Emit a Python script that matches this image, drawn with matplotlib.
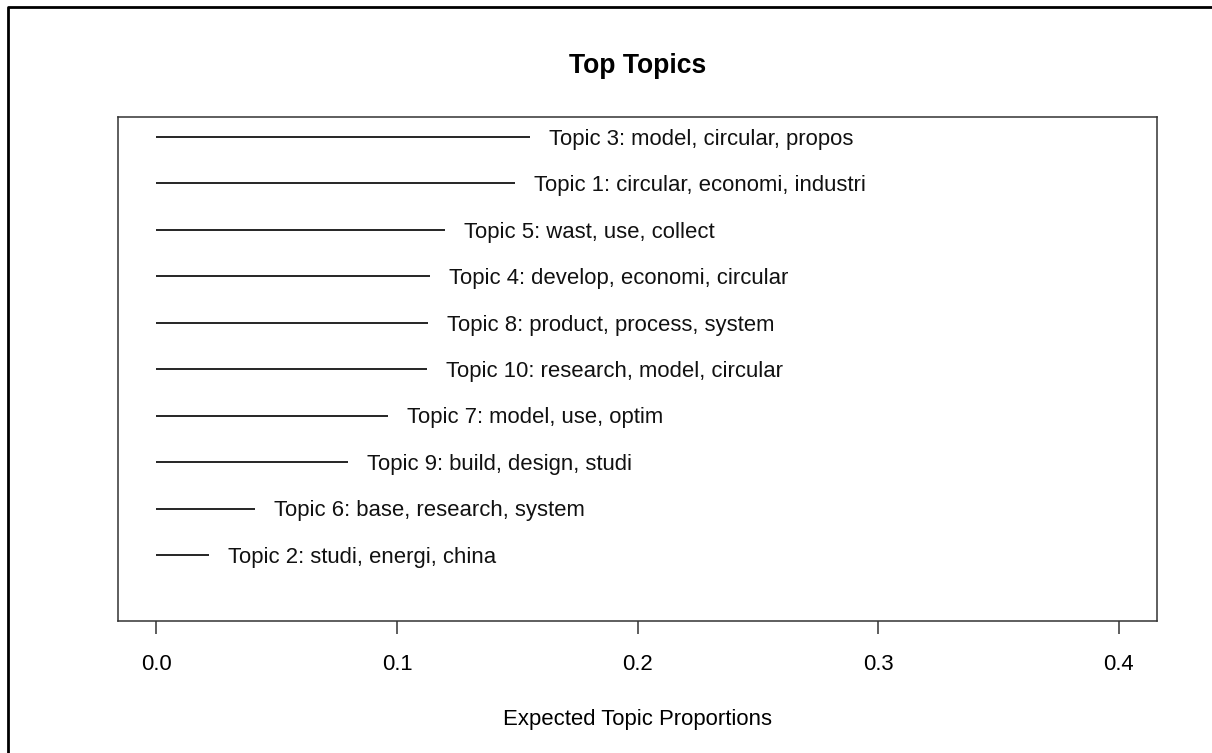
import numpy as np
import matplotlib
matplotlib.use("Agg")
import matplotlib.pyplot as plt
from matplotlib.lines import Line2D

plt.rcParams['font.family'] = ['Liberation Sans', 'DejaVu Sans']

# topics listed bottom to top
labels = ["Topic 2: studi, energi, china",
          "Topic 6: base, research, system",
          "Topic 9: build, design, studi",
          "Topic 7: model, use, optim",
          "Topic 10: research, model, circular",
          "Topic 8: product, process, system",
          "Topic 4: develop, economi, circular",
          "Topic 5: wast, use, collect",
          "Topic 1: circular, economi, industri",
          "Topic 3: model, circular, propos"]
props = [0.0220, 0.0408, 0.0795, 0.0961, 0.1123, 0.1127, 0.1136, 0.1198, 0.1489, 0.1552]
xticks = [0.0, 0.1, 0.2, 0.3, 0.4]

W, H = 1212, 753
fig = plt.figure(figsize=(W / 100, H / 100), dpi=100)
ax = fig.add_axes([118 / W, 1 - 621 / H, (1157 - 118) / W, (621 - 117) / H])

fs = 15.9
ypos = np.arange(1, len(props) + 1)
for y, p, lab in zip(ypos, props, labels):
    ax.plot([0, p], [y, y], color='black', lw=1.2, solid_capstyle='butt')
    ax.annotate(lab, (p, y), xytext=(13.7, -1.6), textcoords='offset points',
                va='center', ha='left', fontsize=fs, color='#111111')

ax.set_xlim(-0.016, 0.416)
ax.set_ylim(-0.42, 10.43)
ax.set_yticks([])
ax.set_xticks(xticks)
ax.set_xticklabels(["%.1f" % t for t in xticks], fontsize=fs)
ax.tick_params(axis='x', length=9.4, width=1.1, color='#333333', pad=14)
for s in ax.spines.values():
    s.set_color('#333333')
    s.set_linewidth(1.1)

ax.set_xlabel("Expected Topic Proportions", fontsize=fs, labelpad=24.5)
ax.set_title("Top Topics", fontsize=fs * 1.2, fontweight='bold', pad=31.5)

# outer frame of the original device
fig.add_artist(Line2D([8 / W, 8 / W, 1.0], [0.0, 1 - 7 / H, 1 - 7 / H],
                      transform=fig.transFigure, color='black', lw=2))

fig.savefig("out.png", dpi=100)
